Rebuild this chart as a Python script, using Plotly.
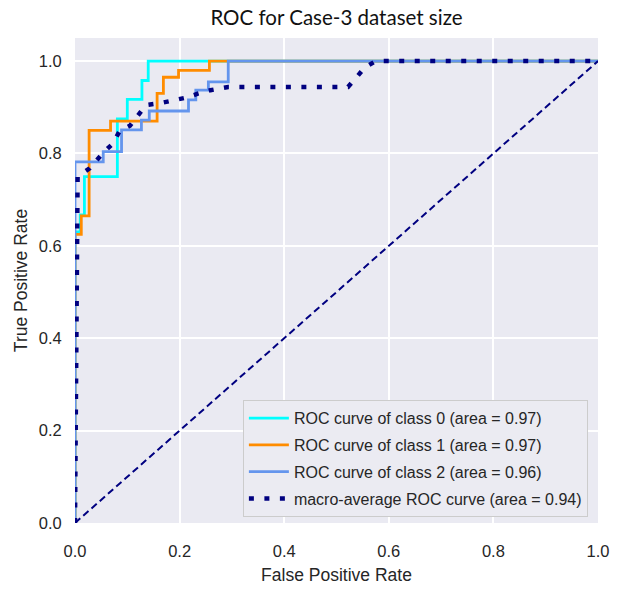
import plotly.graph_objects as go

# ---- data ----
fpr_class0 = [0, 0, 0.010, 0.018, 0.081, 0.100, 0.128, 0.140, 1.0]
tpr_class0 = [0, 0.630, 0.667, 0.750, 0.875, 0.917, 0.958, 1.000, 1.0]

fpr_class1 = [0, 0, 0.012, 0.027, 0.068, 0.157, 0.169, 0.198, 0.257, 1.0]
tpr_class1 = [0, 0.625, 0.665, 0.850, 0.870, 0.930, 0.965, 0.980, 1.000, 1.0]

fpr_class2 = [0, 0, 0.054, 0.089, 0.127, 0.142, 0.217, 0.231, 0.255, 0.293, 1.0]
tpr_class2 = [0, 0.782, 0.804, 0.851, 0.872, 0.892, 0.916, 0.937, 0.955, 1.000, 1.0]

fpr_macro = [0, 0.005, 0.028, 0.041, 0.057, 0.073, 0.085, 0.105, 0.120, 0.136,
             0.163, 0.188, 0.213, 0.236, 0.259, 0.293, 0.522, 0.539, 0.554, 0.575, 1.0]
tpr_macro = [0, 0.750, 0.768, 0.786, 0.805, 0.822, 0.848, 0.860, 0.883, 0.905,
             0.909, 0.915, 0.921, 0.930, 0.937, 0.944, 0.944, 0.966, 0.986, 1.000, 1.0]

class_names = ["ROC curve of class 0 (area = 0.97)",
               "ROC curve of class 1 (area = 0.97)",
               "ROC curve of class 2 (area = 0.96)"]
macro_name = "macro-average ROC curve (area = 0.94)"
class_colors = ["#00FFFF", "#FF8C00", "#6495ED"]

diag_x = [0, 1]
diag_y = [0, 1]

tick_vals = [0.0, 0.2, 0.4, 0.6, 0.8, 1.0]
tick_text = ["0.0", "0.2", "0.4", "0.6", "0.8", "1.0"]

fig = go.Figure()
for i, (fx, ty) in enumerate([(fpr_class0, tpr_class0), (fpr_class1, tpr_class1), (fpr_class2, tpr_class2)]):
    fig.add_trace(go.Scatter(x=fx, y=ty, mode="lines", line_shape="hv",
                             line=dict(color=class_colors[i], width=2.8),
                             name=class_names[i], legendgroup=f"g{i}"))
fig.add_trace(go.Scatter(x=fpr_macro, y=tpr_macro, mode="lines",
                         line=dict(color="#000080", width=4.5, dash="5px,10.5px"),
                         name=macro_name, legendgroup="g3"))
fig.add_trace(go.Scatter(x=diag_x, y=diag_y, mode="lines",
                         line=dict(color="#000080", width=2, dash="7px,4px"),
                         showlegend=False))

FONT = "Liberation Sans, Arial, sans-serif"
axis_font = dict(family=FONT, size=16.5, color="#262626")
W, H = 620, 590
L, R, T, B = 75, 22, 38, 67
fig.update_layout(
    width=W, height=H,
    margin=dict(l=L, r=R, t=T, b=B, autoexpand=False),
    paper_bgcolor="white", plot_bgcolor="#EAEAF2",
    title=dict(text="ROC for Case-3 dataset size", x=(L + (W - R)) / 2 / W, xanchor="center",
               yref="container", y=1 - 18 / H, yanchor="middle", pad=dict(t=0, b=0),
               font=dict(family="Lato, sans-serif", size=20.5, color="#111111")),
    legend=dict(x=0.321, y=0.012, xanchor="left", yanchor="bottom",
                bgcolor="#EBEBF2", bordercolor="#CCCCCC", borderwidth=1,
                font=dict(family=FONT, size=16, color="#262626"),
                tracegroupgap=3, traceorder="grouped", itemwidth=40),
    showlegend=True,
)
fig.update_xaxes(range=[0, 1], tickvals=tick_vals, ticktext=tick_text, showgrid=True, automargin=False,
                 gridcolor="white", gridwidth=1.5, zeroline=False, showline=False,
                 ticks="outside", ticklen=13, tickcolor="rgba(0,0,0,0)", tickfont=axis_font,
                 title=dict(text="False Positive Rate", font=dict(family=FONT, size=17.5, color="#262626"), standoff=9))
fig.update_yaxes(range=[0, 1.05], tickvals=tick_vals, ticktext=tick_text, showgrid=True, automargin=False,
                 gridcolor="white", gridwidth=1.5, zeroline=False, showline=False,
                 ticks="outside", ticklen=9, tickcolor="rgba(0,0,0,0)", tickfont=axis_font,
                 title=dict(text="True Positive Rate", font=dict(family=FONT, size=17.5, color="#262626"), standoff=6))

fig.write_html("out.html", config={"displayModeBar": False},
               post_script="document.body.style.margin='0';document.body.style.overflow='hidden';")
